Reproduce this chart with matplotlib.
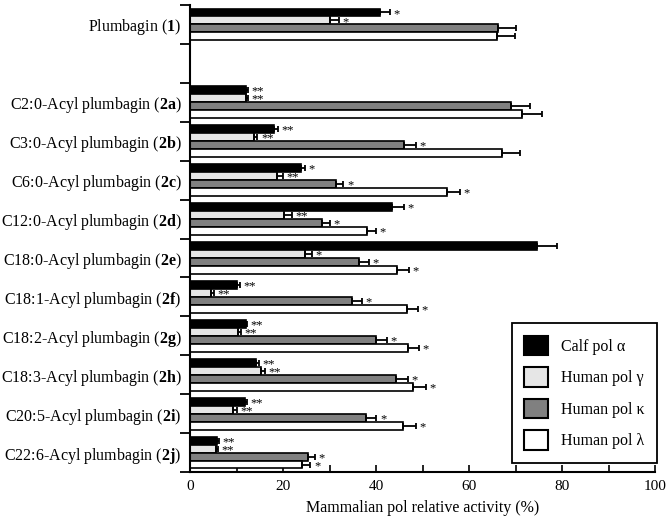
import matplotlib
matplotlib.use("Agg")
import matplotlib.pyplot as plt
import numpy as np

plt.rcParams['font.family'] = ['Liberation Serif', 'DejaVu Serif']
plt.rcParams['mathtext.fontset'] = 'custom'
plt.rcParams['mathtext.rm'] = 'Liberation Serif'
plt.rcParams['mathtext.bf'] = 'Liberation Serif:bold'

compounds = ["Plumbagin ($\\mathbf{1}$)",
             "C2:0-Acyl plumbagin ($\\mathbf{2a}$)",
             "C3:0-Acyl plumbagin ($\\mathbf{2b}$)",
             "C6:0-Acyl plumbagin ($\\mathbf{2c}$)",
             "C12:0-Acyl plumbagin ($\\mathbf{2d}$)",
             "C18:0-Acyl plumbagin ($\\mathbf{2e}$)",
             "C18:1-Acyl plumbagin ($\\mathbf{2f}$)",
             "C18:2-Acyl plumbagin ($\\mathbf{2g}$)",
             "C18:3-Acyl plumbagin ($\\mathbf{2h}$)",
             "C20:5-Acyl plumbagin ($\\mathbf{2i}$)",
             "C22:6-Acyl plumbagin ($\\mathbf{2j}$)"]
slots = [0, 2, 3, 4, 5, 6, 7, 8, 9, 10, 11]

series_names = ["Calf pol α", "Human pol γ", "Human pol κ", "Human pol λ"]
alpha = [40.9, 12.0, 18.0, 23.8, 43.5, 74.6, 10.2, 12.0, 14.1, 11.8, 5.8]
alpha_err = [2.1, 0.5, 1.0, 1.0, 2.5, 4.3, 0.5, 0.3, 0.7, 0.5, 0.5]
gamma = [30.0, 12.0, 13.7, 18.8, 20.2, 24.8, 4.6, 10.4, 15.3, 9.2, 5.5]
gamma_err = [2.0, 0.5, 0.8, 1.2, 1.8, 1.5, 0.6, 0.6, 0.9, 0.8, 0.5]
kappa = [66.2, 69.0, 46.0, 31.3, 28.4, 36.3, 34.9, 39.9, 44.4, 37.9, 25.3]
kappa_err = [4.0, 4.2, 2.5, 1.7, 1.6, 2.2, 2.0, 2.5, 2.4, 2.2, 1.5]
lam = [66.0, 71.4, 67.1, 55.3, 38.1, 44.5, 46.7, 46.8, 47.9, 45.7, 24.1]
lam_err = [3.9, 4.3, 3.9, 2.7, 1.9, 2.5, 2.3, 2.5, 2.9, 2.8, 1.8]

alpha_sig = ["*", "**", "**", "*", "*", "", "**", "**", "**", "**", "**"]
gamma_sig = ["*", "**", "**", "**", "**", "*", "**", "**", "**", "**", "**"]
kappa_sig = ["", "", "*", "*", "*", "*", "*", "*", "*", "*", "*"]
lam_sig = ["", "", "", "*", "*", "*", "*", "*", "*", "*", "*"]

colors = ["#000000", "#e6e6e6", "#808080", "#ffffff"]

fig = plt.figure(figsize=(6.7, 5.24), dpi=100)
ax = fig.add_axes([190/670, 1-472/524, 465/670, 467/524])

values = [alpha, gamma, kappa, lam]
errs = [alpha_err, gamma_err, kappa_err, lam_err]
sigs = [alpha_sig, gamma_sig, kappa_sig, lam_sig]
h = 0.205
offsets = [-1.5*h, -0.5*h, 0.5*h, 1.5*h]
y = np.array(slots, dtype=float)
for i in range(4):
    yy = y + offsets[i]
    ax.barh(yy, values[i], height=h, color=colors[i], edgecolor='black',
            linewidth=1.2, label=series_names[i], zorder=2)
    ax.errorbar(values[i], yy, xerr=[np.zeros(len(values[i])), errs[i]],
                fmt='none', ecolor='black', elinewidth=1.3, capsize=2.5,
                capthick=1.3, zorder=3)
    for v, e, s, yv in zip(values[i], errs[i], sigs[i], yy):
        if s:
            ax.annotate(s, (v + e, yv), xytext=(2.5, -1.0), textcoords='offset points',
                        ha='left', va='center', fontsize=9)

ax.set_xlim(0, 100)
ax.set_ylim(11.5, -0.5)
ax.set_yticks(slots)
ax.set_yticklabels(compounds, fontsize=11.5)
ax.tick_params(axis='y', length=0, pad=6)
ax.set_yticks(np.arange(-0.5, 12, 1), minor=True)
ax.tick_params(axis='y', which='minor', length=7, width=1.3, direction='out')
ax.set_xticks(np.arange(0, 101, 20))
ax.set_xticks(np.arange(0, 101, 10), minor=True)
ax.tick_params(axis='x', which='both', direction='in', length=5, width=1.2, labelsize=11, pad=6)
for sp in ['top', 'right']:
    ax.spines[sp].set_visible(False)
for sp in ['left', 'bottom']:
    ax.spines[sp].set_linewidth(1.5)
ax.set_xlabel("Mammalian pol relative activity (%)", fontsize=11.5, labelpad=5)

leg = ax.legend(loc='lower right', bbox_to_anchor=(1.005, 0.02), borderaxespad=0,
                fontsize=11.5, handlelength=1.5, handleheight=1.5, labelspacing=0.75,
                fancybox=False, framealpha=1, edgecolor='black', borderpad=0.8,
                handletextpad=0.8)
leg.get_frame().set_linewidth(1.3)
for p in leg.get_patches():
    p.set_linewidth(1.5)

fig.savefig("out.png", dpi=100)
